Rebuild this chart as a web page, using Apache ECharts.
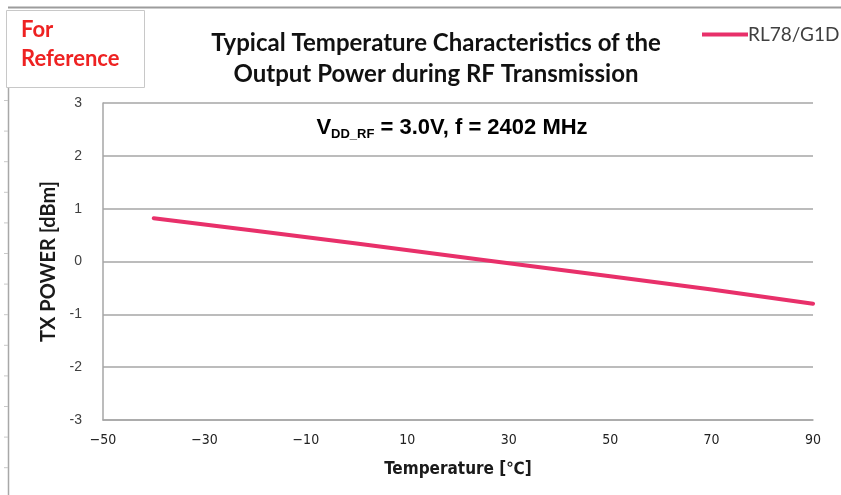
<!DOCTYPE html>
<html>
<head>
<meta charset="utf-8">
<title>TX Power vs Temperature</title>
<script src="https://cdn.jsdelivr.net/npm/echarts@6/dist/echarts.min.js"></script>
<style>
  html, body { margin: 0; padding: 0; background: #ffffff; }
  #chart { width: 841px; height: 495px; }
</style>
</head>
<body>
<div id="chart"></div>
<script>
// Measured TX power of the RL78/G1D over temperature
const seriesName = 'RL78/G1D';
const temperatures = [-40, -20, 0, 25, 50, 70, 90];
const txPower = [0.82, 0.58, 0.34, 0.03, -0.28, -0.53, -0.80];

// Axis ranges and ticks
const xMin = -50, xMax = 90, xStep = 20;
const yMin = -3, yMax = 3, yStep = 1;

const narrowFont = "'DejaVu Sans Condensed', 'Liberation Sans Narrow', 'Roboto', sans-serif";

const chart = echarts.init(document.getElementById('chart'), null, { renderer: 'canvas' });

// Page-margin decoration: small ruler ticks along the left frame line
const rulerTicks = [];
for (let i = 0; i < 13; i++) {
  const y = 100.5 + i * 30.6;
  rulerTicks.push({
    type: 'line', silent: true,
    shape: { x1: 4, y1: y, x2: 8, y2: y },
    style: { stroke: '#c8c8c8', lineWidth: 1 }
  });
}

const option = {
  animation: false,
  backgroundColor: '#ffffff',
  title: [
    {
      text: 'Typical Temperature Characteristics of the\nOutput Power during RF Transmission',
      left: 431, top: 23, textAlign: 'center',
      textStyle: {
        fontFamily: 'Lato', fontWeight: 'bold', fontSize: 24,
        lineHeight: 31, color: '#111111'
      }
    },
    {
      text: '{v|V}{s|DD_RF}{v| = 3.0V, f = 2402 MHz}',
      left: 447, top: 110, textAlign: 'center',
      textStyle: {
        rich: {
          v: { fontFamily: 'Liberation Sans', fontWeight: 'bold', fontSize: 22, color: '#000000', lineHeight: 26 },
          s: { fontFamily: 'Liberation Sans', fontWeight: 'bold', fontSize: 13, color: '#000000', lineHeight: 26, verticalAlign: 'bottom', padding: [10, 0, 0, 0] }
        }
      }
    }
  ],
  legend: {
    left: 697, top: 20,
    icon: 'rect', itemWidth: 46, itemHeight: 4, itemGap: 0,
    textStyle: { fontFamily: 'Lato', fontSize: 19, color: '#404040', padding: [0, 0, 0, -5] },
    data: [seriesName]
  },
  grid: { left: 103, top: 103, width: 710, height: 317, containLabel: false },
  xAxis: {
    type: 'value', min: xMin, max: xMax, interval: xStep,
    name: 'Temperature [\u2103]', nameLocation: 'middle', nameGap: 41,
    nameTextStyle: { fontFamily: narrowFont, fontWeight: 'bold', fontSize: 17, color: '#1a1a1a' },
    axisLine: { show: true, onZero: false, lineStyle: { color: '#a6a6a6', width: 1.5 } },
    axisTick: { show: false },
    splitLine: { show: false },
    axisLabel: {
      margin: 13, fontFamily: narrowFont, fontSize: 14, color: '#222222',
      formatter: v => (v < 0 ? '\u2212' + Math.abs(v) : String(v))
    }
  },
  yAxis: {
    type: 'value', min: yMin, max: yMax, interval: yStep,
    name: 'TX POWER [dBm]', nameLocation: 'middle', nameGap: 42, nameRotate: 90,
    nameTextStyle: { fontFamily: 'Lato', fontWeight: 'bold', fontSize: 20, color: '#1a1a1a' },
    axisLine: { show: true, onZero: false, lineStyle: { color: '#a6a6a6', width: 1.5 } },
    axisTick: { show: false },
    splitLine: { show: true, lineStyle: { color: '#a6a6a6', width: 1.5 } },
    axisLabel: { margin: 21, fontFamily: 'Liberation Sans', fontSize: 14, color: '#404040' }
  },
  series: [{
    name: seriesName,
    type: 'line',
    data: temperatures.map((t, i) => [t, txPower[i]]),
    showSymbol: false,
    smooth: false,
    lineStyle: { color: '#e8306a', width: 4, cap: 'round' },
    itemStyle: { color: '#e8306a' }
  }],
  graphic: [
    // outer page frame
    { type: 'line', silent: true, shape: { x1: 8, y1: 7.5, x2: 841, y2: 7.5 }, style: { stroke: '#9c9c9c', lineWidth: 2 } },
    { type: 'line', silent: true, shape: { x1: 8.5, y1: 87, x2: 8.5, y2: 495 }, style: { stroke: '#a8a8a8', lineWidth: 1.5 } },
    ...rulerTicks,
    // "For Reference" stamp
    { type: 'rect', silent: true, shape: { x: 6.5, y: 10.5, width: 138, height: 77 }, style: { fill: '#ffffff', stroke: '#c8c8c8', lineWidth: 1 } },
    { type: 'text', silent: true, left: 21, top: 19, style: { text: 'For', fill: '#ee2222', font: 'bold 22px Lato' } },
    { type: 'text', silent: true, left: 21, top: 48, style: { text: 'Reference', fill: '#ee2222', font: 'bold 22px Lato' } }
  ]
};

chart.setOption(option);
</script>
</body>
</html>
